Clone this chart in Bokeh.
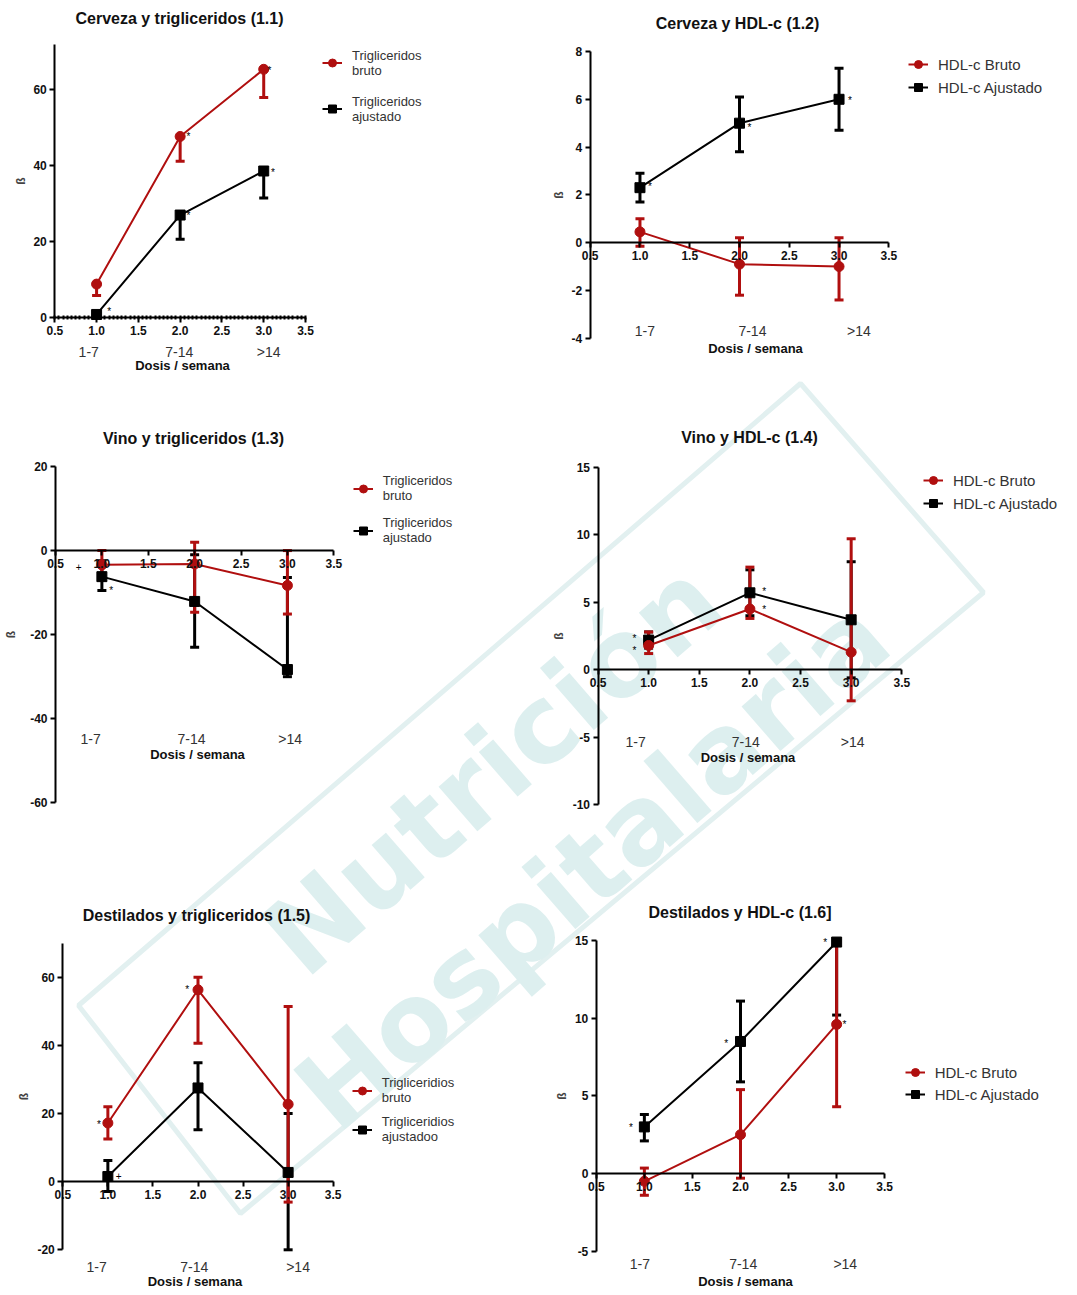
import numpy as np
from bokeh.plotting import figure
from bokeh.models import (Range1d, LinearAxis, FixedTicker, NumeralTickFormatter,
                          Whisker, TeeHead, ColumnDataSource, Legend, LegendItem)
from bokeh.core.properties import value
from bokeh.embed import file_html
from bokeh.resources import INLINE

W, H = 1074, 1291
M = 0

RED = "#b00f0f"
BLACK = "#000000"
FONT = "Liberation Sans"

DOSE = [1, 2, 3]
DOSE_LABELS = ["1-7", "7-14", ">14"]
X_TICKS = [0.5, 1.0, 1.5, 2.0, 2.5, 3.0, 3.5]

# ---- 1.1 Cerveza y trigliceridos
beer_tg_bruto = [8.8, 47.7, 65.4]
beer_tg_bruto_low = [5.8, 41.2, 58.0]
beer_tg_bruto_high = [8.8, 47.7, 65.4]
beer_tg_adj = [0.8, 27.0, 38.6]
beer_tg_adj_low = [0.8, 20.6, 31.5]
beer_tg_adj_high = [0.8, 27.0, 38.6]
beer_tg_yticks = [0, 20, 40, 60]
beer_tg_marks_x = [2.10, 3.07, 1.15, 2.10, 3.11]
beer_tg_marks_y = [47.8, 65.1, 1.7, 26.9, 38.3]
beer_tg_marks = ["*", "*", "*", "*", "*"]

# ---- 1.2 Cerveza y HDL-c
beer_hdl_bruto = [0.45, -0.9, -1.0]
beer_hdl_bruto_low = [-0.15, -2.2, -2.4]
beer_hdl_bruto_high = [1.0, 0.2, 0.2]
beer_hdl_adj = [2.3, 5.0, 6.0]
beer_hdl_adj_low = [1.7, 3.8, 4.7]
beer_hdl_adj_high = [2.9, 6.1, 7.3]
beer_hdl_yticks = [-4, -2, 0, 2, 4, 6, 8]
beer_hdl_marks_x = [1.10, 2.10, 3.11]
beer_hdl_marks_y = [2.35, 4.83, 5.95]
beer_hdl_marks = ["*", "*", "*"]

# ---- 1.3 Vino y trigliceridos
wine_tg_bruto = [-3.4, -3.2, -8.3]
wine_tg_bruto_low = [-7.0, -14.7, -15.1]
wine_tg_bruto_high = [0.0, 2.0, 0.0]
wine_tg_adj = [-6.2, -12.1, -28.3]
wine_tg_adj_low = [-9.5, -23.0, -30.0]
wine_tg_adj_high = [-2.4, -1.0, -6.4]
wine_tg_yticks = [-60, -40, -20, 0, 20]
wine_tg_marks_x = [1.10, 0.75]
wine_tg_marks_y = [-9.5, -4.0]
wine_tg_marks = ["*", "+"]

# ---- 1.4 Vino y HDL-c
wine_hdl_bruto = [1.8, 4.5, 1.3]
wine_hdl_bruto_low = [1.2, 3.8, -2.3]
wine_hdl_bruto_high = [2.8, 7.6, 9.7]
wine_hdl_adj = [2.2, 5.7, 3.7]
wine_hdl_adj_low = [1.6, 4.0, -0.6]
wine_hdl_adj_high = [2.8, 7.4, 8.0]
wine_hdl_yticks = [-10, -5, 0, 5, 10, 15]
wine_hdl_marks_x = [0.86, 0.86, 2.14, 2.14]
wine_hdl_marks_y = [2.3, 1.43, 5.82, 4.47]
wine_hdl_marks = ["*", "*", "*", "*"]

# ---- 1.5 Destilados y trigliceridos
spirit_tg_bruto = [17.2, 56.3, 22.7]
spirit_tg_bruto_low = [12.5, 40.6, -6.0]
spirit_tg_bruto_high = [22.0, 60.0, 51.4]
spirit_tg_adj = [1.5, 27.5, 2.7]
spirit_tg_adj_low = [-2.9, 15.2, -20.0]
spirit_tg_adj_high = [6.2, 34.9, 20.0]
spirit_tg_yticks = [-20, 0, 20, 40, 60]
spirit_tg_marks_x = [0.90, 1.88, 1.12]
spirit_tg_marks_y = [16.9, 56.5, 1.55]
spirit_tg_marks = ["*", "*", "+"]

# ---- 1.6 Destilados y HDL-c
spirit_hdl_bruto = [-0.5, 2.5, 9.6]
spirit_hdl_bruto_low = [-1.4, -0.3, 4.3]
spirit_hdl_bruto_high = [0.35, 5.4, 14.9]
spirit_hdl_adj = [3.0, 8.5, 14.9]
spirit_hdl_adj_low = [2.1, 5.9, 10.2]
spirit_hdl_adj_high = [3.8, 11.1, 15.0]
spirit_hdl_yticks = [-5, 0, 5, 10, 15]
spirit_hdl_marks_x = [0.86, 1.85, 2.88, 3.08]
spirit_hdl_marks_y = [2.96, 8.37, 14.87, 9.6]
spirit_hdl_marks = ["*", "*", "*", "*"]

TG_LABELS = ["Trigliceridos\nbruto", "Trigliceridos\najustado"]
TG_LABELS_5 = ["Trigliceridios\nbruto", "Trigliceridios\najustadoo"]
HDL_LABELS = ["HDL-c Bruto", "HDL-c Ajustado"]

PANELS = [
    dict(key="11", title="Cerveza y trigliceridos (1.1)", title_xy=(179, 18.3),
         left=54.3, right=305.0, yref=((0, 317.0), (60, 89.3)), ybounds=(0, 72),
         yticks=beer_tg_yticks, minor=True,
         bruto=(beer_tg_bruto, beer_tg_bruto_low, beer_tg_bruto_high),
         adj=(beer_tg_adj, beer_tg_adj_low, beer_tg_adj_high), one_sided=True,
         marks=(beer_tg_marks_x, beer_tg_marks_y, beer_tg_marks),
         cat_y=351.7, cat_pos=[0.906, 1.99, 3.06], cat_center=2.03, dosis_standoff=-6,
         ylab_standoff=2, legend_left=322, legend_c=(62.7, 108.7), labels=TG_LABELS, two_line=True),
    dict(key="12", title="Cerveza y HDL-c (1.2)", title_xy=(737, 22.7),
         left=589.7, right=888.3, yref=((8, 51.0), (-4, 337.7)), ybounds=(-4, 8),
         yticks=beer_hdl_yticks, minor=False,
         bruto=(beer_hdl_bruto, beer_hdl_bruto_low, beer_hdl_bruto_high),
         adj=(beer_hdl_adj, beer_hdl_adj_low, beer_hdl_adj_high), one_sided=False,
         marks=(beer_hdl_marks_x, beer_hdl_marks_y, beer_hdl_marks),
         cat_y=330.0, cat_pos=[1.05, 2.13, 3.20], cat_center=2.16, dosis_standoff=-1,
         ylab_standoff=3, legend_left=908, legend_c=(64.3, 87.3), labels=HDL_LABELS, two_line=False),
    dict(key="13", title="Vino y trigliceridos (1.3)", title_xy=(193, 438.3),
         left=55.0, right=333.3, yref=((20, 466.0), (-60, 802.3)), ybounds=(-60, 20),
         yticks=wine_tg_yticks, minor=False,
         bruto=(wine_tg_bruto, wine_tg_bruto_low, wine_tg_bruto_high),
         adj=(wine_tg_adj, wine_tg_adj_low, wine_tg_adj_high), one_sided=False,
         marks=(wine_tg_marks_x, wine_tg_marks_y, wine_tg_marks),
         cat_y=738.3, cat_pos=[0.878, 1.967, 3.03], cat_center=2.03, dosis_standoff=-3,
         ylab_standoff=9, legend_left=352.7, legend_c=(487.7, 530.0), labels=TG_LABELS, two_line=True),
    dict(key="14", title="Vino y HDL-c (1.4)", title_xy=(749, 436.7),
         left=597.5, right=901.3, yref=((15, 466.7), (-10, 804.3)), ybounds=(-10, 15),
         yticks=wine_hdl_yticks, minor=False,
         bruto=(wine_hdl_bruto, wine_hdl_bruto_low, wine_hdl_bruto_high),
         adj=(wine_hdl_adj, wine_hdl_adj_low, wine_hdl_adj_high), one_sided=False,
         marks=(wine_hdl_marks_x, wine_hdl_marks_y, wine_hdl_marks),
         cat_y=741.0, cat_pos=[0.872, 1.96, 3.015], cat_center=1.98, dosis_standoff=-3,
         ylab_standoff=4, legend_left=922.9, legend_c=(480.7, 503.3), labels=HDL_LABELS, two_line=False),
    dict(key="15", title="Destilados y trigliceridos (1.5)", title_xy=(196, 915.0),
         left=62.3, right=332.7, yref=((60, 976.7), (-20, 1249.3)), ybounds=(-20, 70),
         yticks=spirit_tg_yticks, minor=False,
         bruto=(spirit_tg_bruto, spirit_tg_bruto_low, spirit_tg_bruto_high),
         adj=(spirit_tg_adj, spirit_tg_adj_low, spirit_tg_adj_high), one_sided=False,
         marks=(spirit_tg_marks_x, spirit_tg_marks_y, spirit_tg_marks),
         cat_y=1266.7, cat_pos=[0.875, 1.958, 3.11], cat_center=1.97, dosis_standoff=-5,
         ylab_standoff=3, legend_left=351.7, legend_c=(1090.0, 1129.3), labels=TG_LABELS_5, two_line=True),
    dict(key="16", title="Destilados y HDL-c (1.6]", title_xy=(739.5, 911.7),
         left=595.8, right=884.2, yref=((15, 940.0), (-5, 1250.7)), ybounds=(-5, 15),
         yticks=spirit_hdl_yticks, minor=False,
         bruto=(spirit_hdl_bruto, spirit_hdl_bruto_low, spirit_hdl_bruto_high),
         adj=(spirit_hdl_adj, spirit_hdl_adj_low, spirit_hdl_adj_high), one_sided=False,
         marks=(spirit_hdl_marks_x, spirit_hdl_marks_y, spirit_hdl_marks),
         cat_y=1263.0, cat_pos=[0.953, 2.028, 3.09], cat_center=2.05, dosis_standoff=-1,
         ylab_standoff=3, legend_left=904.7, legend_c=(1072.3, 1094.3), labels=HDL_LABELS, two_line=False),
]

# watermark (decoration)
WM_TEXT = ["Nutrición", "Hospitalaria"]
WM_X = [492, 592]
WM_Y = [768, 864]
WM_DIAMOND_X = [800, 983, 240, 78]
WM_DIAMOND_Y = [383, 592, 1213, 1005]

p = figure(width=W, height=H, x_range=Range1d(M, M + W), y_range=Range1d(M + H, M),
           toolbar_location=None, output_backend="svg", min_border=0,
           x_axis_type=None, y_axis_type=None)
p.outline_line_color = None
p.background_fill_color = "white"
p.border_fill_color = "white"

p.patch(WM_DIAMOND_X, WM_DIAMOND_Y, fill_color=None, line_color="#e2f0f0", line_width=5, level="image")
p.text(x=WM_X, y=WM_Y, text=WM_TEXT, angle=np.deg2rad(41), text_align="center",
       text_baseline="middle", text_font=value("DejaVu Sans"), text_font_style="bold",
       text_font_size="108px", text_color="#ddefef", level="image")

CAT_OFF = 8
H2 = 33  # two-line legend item height
H1 = 20

for pan in PANELS:
    xn, yn = "x" + pan["key"], "y" + pan["key"]
    L, R = pan["left"], pan["right"]
    kx = (R - L) / 3.0
    (v1, p1), (v2, p2) = pan["yref"]
    ky = (p2 - p1) / (v1 - v2)
    p.extra_x_ranges[xn] = Range1d(0.5 - (L - M) / kx, 0.5 + (M + W - L) / kx)
    p.extra_y_ranges[yn] = Range1d(v1 - (M + H - p1) / ky, v1 - (M - p1) / ky)
    kw = dict(x_range_name=xn, y_range_name=yn)

    # numeric x axis through y = 0
    xt = FixedTicker(ticks=X_TICKS)
    if pan["minor"]:
        xt = FixedTicker(ticks=X_TICKS, minor_ticks=[round(0.5 + 0.05 * i, 3) for i in range(61)])
    xax = LinearAxis(fixed_location=0, bounds=(0.5, 3.5), ticker=xt,
                     formatter=NumeralTickFormatter(format="0.0"), **kw)
    xax.axis_line_width = 2
    xax.major_tick_line_width = 2
    xax.major_tick_out = 5
    xax.major_tick_in = 0
    xax.minor_tick_in = 2
    xax.minor_tick_out = 2
    xax.minor_tick_line_width = 2
    xax.major_label_standoff = 3
    xax.major_label_text_font = FONT
    xax.major_label_text_font_style = "bold"
    xax.major_label_text_font_size = "12px"
    xax.major_label_text_color = "#111111"
    p.add_layout(xax, "below")

    # category axis
    cat_px = pan["cat_y"] - CAT_OFF
    cat_v = v1 - (cat_px - p1) / ky
    c = pan["cat_center"]
    cax = LinearAxis(fixed_location=cat_v, bounds=(0.5, 2 * c - 0.5),
                     ticker=FixedTicker(ticks=pan["cat_pos"]),
                     major_label_overrides={pos: lab for pos, lab in zip(pan["cat_pos"], DOSE_LABELS)},
                     axis_label="Dosis / semana", **kw)
    cax.axis_line_alpha = 0
    cax.major_tick_in = 0
    cax.major_tick_out = 0
    cax.minor_tick_in = 0
    cax.minor_tick_out = 0
    cax.major_label_standoff = 0
    cax.major_label_text_font = FONT
    cax.major_label_text_font_size = "14px"
    cax.major_label_text_color = "#333333"
    cax.axis_label_standoff = pan["dosis_standoff"]
    cax.axis_label_text_font = FONT
    cax.axis_label_text_font_style = "bold"
    cax.axis_label_text_font_size = "13px"
    cax.axis_label_text_color = "#111111"
    p.add_layout(cax, "below")

    # y axis at x = 0.5
    yax = LinearAxis(fixed_location=0.5, bounds=pan["ybounds"],
                     ticker=FixedTicker(ticks=pan["yticks"]),
                     major_label_overrides={t: str(t) for t in pan["yticks"]},
                     axis_label="ß", **kw)
    yax.axis_line_width = 2
    yax.major_tick_line_width = 2
    yax.major_tick_out = 5
    yax.major_tick_in = 0
    yax.minor_tick_in = 0
    yax.minor_tick_out = 0
    yax.major_label_standoff = 3
    yax.major_label_text_font = FONT
    yax.major_label_text_font_style = "bold"
    yax.major_label_text_font_size = "12px"
    yax.major_label_text_color = "#111111"
    yax.axis_label_standoff = pan["ylab_standoff"]
    yax.axis_label_text_font = FONT
    yax.axis_label_text_font_style = "bold"
    yax.axis_label_text_font_size = "12px"
    p.add_layout(yax, "left")

    rend = {}
    for name, color, marker in (("adj", BLACK, "square"), ("bruto", RED, "circle")):
        vals, lo, hi = pan[name]
        src = ColumnDataSource(dict(x=DOSE, y=vals, lo=lo, hi=hi))
        ln = p.line("x", "y", source=src, line_color=color, line_width=2, **kw)
        wh = Whisker(base="x", lower="lo", upper="hi", source=src, dimension="height",
                     line_color=color, line_width=3,
                     lower_head=TeeHead(size=9, line_color=color, line_width=3),
                     upper_head=None if pan["one_sided"] else TeeHead(size=9, line_color=color, line_width=3),
                     **kw)
        p.add_layout(wh)
        sc = p.scatter("x", "y", source=src, marker=marker, size=10, fill_color=color,
                       line_color=color, **kw)
        rend[name] = (ln, sc)

    mx, my, mt = pan["marks"]
    p.text(x=mx, y=my, text=mt, text_align="center", text_baseline="middle",
           text_font=value(FONT), text_font_size="10px", text_color="#000000", **kw)

    # legend
    h = H2 if pan["two_line"] else H1
    ca, cb = pan["legend_c"]
    spacing = (cb - ca) - h
    lx = pan["legend_left"] - M
    ly = H - (cb + h / 2.0 - M)
    leg = Legend(items=[LegendItem(label=value(pan["labels"][0]), renderers=list(rend["bruto"])),
                        LegendItem(label=value(pan["labels"][1]), renderers=list(rend["adj"]))],
                 location=(lx, ly), padding=0, margin=0, spacing=int(round(spacing)),
                 glyph_width=20, glyph_height=h, label_standoff=10,
                 background_fill_alpha=0, border_line_alpha=0,
                 label_text_font=FONT, label_text_font_size="15px" if not pan["two_line"] else "13px",
                 label_text_color="#333333", label_text_line_height=1.25)
    p.add_layout(leg)

# titles
p.text(x=[pan["title_xy"][0] for pan in PANELS], y=[pan["title_xy"][1] for pan in PANELS],
       text=[pan["title"] for pan in PANELS], text_align="center", text_baseline="middle",
       text_font=value(FONT), text_font_style="bold", text_font_size="16px", text_color="#111111")

open("out.html", "w").write(file_html(p, INLINE))
